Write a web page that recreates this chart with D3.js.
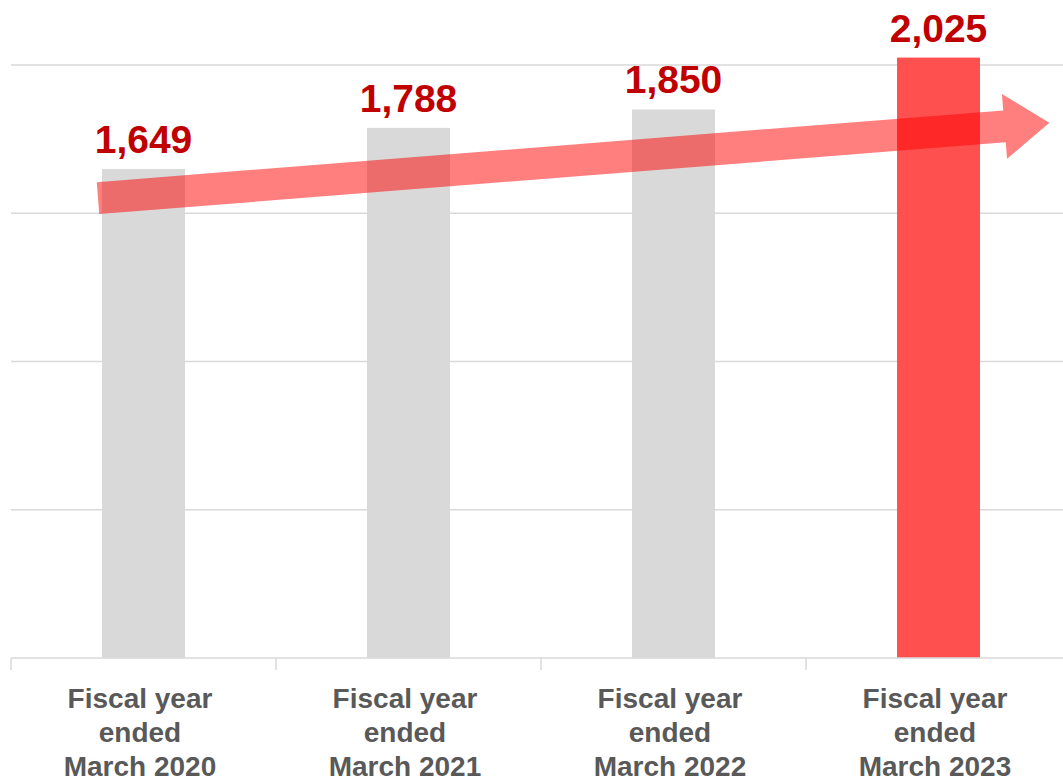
<!DOCTYPE html>
<html>
<head>
<meta charset="utf-8">
<script src="https://cdn.jsdelivr.net/npm/d3@7/dist/d3.min.js"></script>
<style>
  html, body { margin: 0; padding: 0; background: #ffffff; }
  svg { display: block; font-family: "Liberation Sans", Arial, sans-serif; }
</style>
</head>
<body>
<svg id="chart" width="1063" height="777"></svg>
<script>
// Fiscal-year values
const categories = ["FY2020", "FY2021", "FY2022", "FY2023"];
const labelLines = [
  ["Fiscal year", "ended", "March 2020"],
  ["Fiscal year", "ended", "March 2021"],
  ["Fiscal year", "ended", "March 2022"],
  ["Fiscal year", "ended", "March 2023"]
];
const values = [1649, 1788, 1850, 2025];
const gridTicks = [500, 1000, 1500, 2000];
// Trend arrow runs from this value at the first bar to this value at the head
const trendFrom = 1551;
const trendTo = 1793;

const svg = d3.select("#chart");
const W = 1063, H = 777;
const left = 11, baseY = 658, topY = 65;

const x = d3.scaleBand().domain(categories).range([left, left + 265 * 4]).padding(0);
const y = d3.scaleLinear().domain([0, 2000]).range([baseY, topY]);
const barW = x.bandwidth() * 0.313;

// horizontal gridlines
svg.append("g").selectAll("line").data(gridTicks).join("line")
  .attr("x1", left).attr("x2", W)
  .attr("y1", d => y(d)).attr("y2", d => y(d))
  .attr("stroke", "#d9d9d9").attr("stroke-width", 1.5);

// bars
svg.append("g").selectAll("rect").data(values).join("rect")
  .attr("x", (d, i) => x(categories[i]) + (x.bandwidth() - barW) / 2)
  .attr("width", barW)
  .attr("y", d => y(d))
  .attr("height", d => y(0) - y(d))
  .attr("fill", (d, i) => i === values.length - 1 ? "#ff5050" : "#d9d9d9");

// category axis with tick marks between groups
const axis = svg.append("g").attr("transform", `translate(0,${baseY})`)
  .call(d3.axisBottom(x).tickSize(0).tickFormat(""));
axis.select(".domain").attr("stroke", "#d9d9d9").attr("stroke-width", 1.5)
  .attr("d", `M${left},0H${W + 20}`);
axis.selectAll(".sep").data(categories).join("line").attr("class", "sep")
  .attr("x1", d => x(d)).attr("x2", d => x(d))
  .attr("y1", 0).attr("y2", 12)
  .attr("stroke", "#d9d9d9").attr("stroke-width", 1.5);

// multi-line category labels
const lab = svg.append("g").selectAll("text").data(labelLines).join("text")
  .attr("x", (d, i) => x(categories[i]) + x.bandwidth() / 2 - 3.5)
  .attr("y", baseY + 50)
  .attr("text-anchor", "middle")
  .attr("fill", "#595959")
  .attr("font-weight", "bold")
  .attr("font-size", 28);
lab.selectAll("tspan").data(d => d).join("tspan")
  .attr("x", function () { return this.parentNode.getAttribute("x"); })
  .attr("dy", (d, i) => i === 0 ? 0 : 34)
  .text(d => d);

// value labels
svg.append("g").selectAll("text").data(values).join("text")
  .attr("x", (d, i) => x(categories[i]) + x.bandwidth() / 2)
  .attr("y", d => y(d) - 16)
  .attr("text-anchor", "middle")
  .attr("fill", "#c00000")
  .attr("font-weight", "bold")
  .attr("font-size", 39)
  .text(d => d3.format(",")(d));

// translucent trend arrow
const x0 = x(categories[0]) + (x.bandwidth() - barW) / 2 - 4;
const xb = x(categories[3]) + x.bandwidth() / 2 + 66;
const p0 = [x0, y(trendFrom)];
const pb = [xb, y(trendTo)];
const ang = Math.atan2(pb[1] - p0[1], pb[0] - p0[0]);
const shaftLen = Math.hypot(pb[0] - p0[0], pb[1] - p0[1]);
const headLen = 45, halfShaft = 16, halfHead = 32.6;
const shape = [
  [0, -halfShaft], [shaftLen, -halfShaft], [shaftLen, -halfHead],
  [shaftLen + headLen, 0],
  [shaftLen, halfHead], [shaftLen, halfShaft], [0, halfShaft]
];
svg.append("path")
  .attr("d", d3.line()(shape) + "Z")
  .attr("transform", `translate(${p0[0]},${p0[1]}) rotate(${ang * 180 / Math.PI})`)
  .attr("fill", "#ff0000")
  .attr("fill-opacity", 0.5);
</script>
</body>
</html>
